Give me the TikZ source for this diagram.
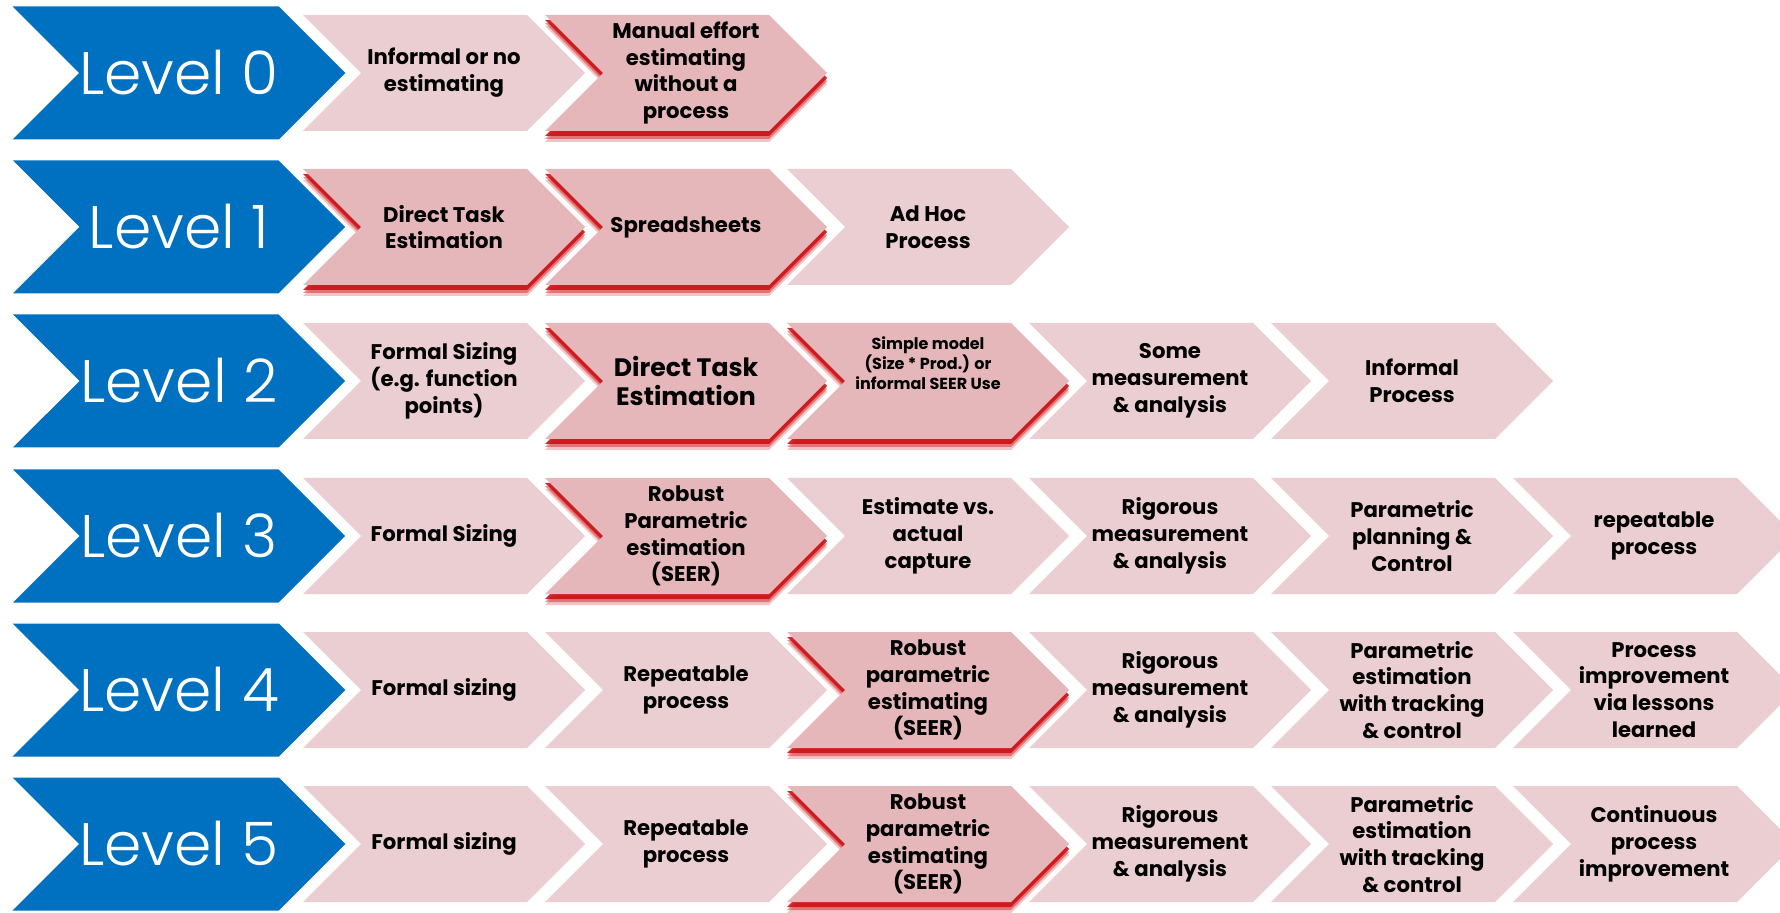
\documentclass[tikz,border=0pt]{standalone}
\usepackage{fontspec}
\setmainfont{Poppins}
\IfFontExistsTF{Poppins Light}{\newfontfamily\levelfont{Poppins Light}}{\newfontfamily\levelfont{Poppins}}
\usetikzlibrary{shapes.symbols, shadows}
\definecolor{levelblue}{RGB}{0,112,192}
\definecolor{stagepink}{RGB}{234,206,209}
\definecolor{keypink}{RGB}{229,183,186}
\definecolor{glowred}{RGB}{204,18,22}

\begin{document}
\begin{tikzpicture}[x=0.5pt, y=-0.5pt,
    level/.style={signal, signal from=west, signal to=east, fill=levelblue, text=white,
      minimum width=166pt, minimum height=66.5pt, inner sep=0pt,
      font=\levelfont\fontsize{30}{30}\selectfont},
    stage/.style={signal, signal from=west, signal to=east, fill=stagepink,
      minimum width=141pt, minimum height=58pt, inner sep=0pt, align=center,
      font=\bfseries\fontsize{10.6}{13.4}\selectfont},
    keystage/.style={stage, fill=keypink,
      drop shadow={shadow xshift=0pt, shadow yshift=-5.5pt, fill=glowred, opacity=.25},
      drop shadow={shadow xshift=0pt, shadow yshift=-4pt, fill=glowred, opacity=.45},
      drop shadow={shadow xshift=0pt, shadow yshift=-2.5pt, fill=glowred, opacity=.9}},
    small/.style={font=\bfseries\fontsize{8}{10}\selectfont},
    large/.style={font=\bfseries\fontsize{12.6}{14.8}\selectfont}]
  \useasboundingbox (0,0) rectangle (1780,913);

  % Level 0
  \node[level] (lvl0) at (179,73) {Level 0};
  \node[stage] (r0c1) at (444,73) {Informal or no\\estimating};
  \node[keystage] (r0c2) at (686,73) {Manual effort\\estimating\\without a\\process};

  % Level 1
  \node[level] (lvl1) at (179,227) {Level 1};
  \node[keystage] (r1c1) at (444,227) {Direct Task\\Estimation};
  \node[keystage] (r1c2) at (686,227) {Spreadsheets};
  \node[stage] (r1c3) at (928,227) {Ad Hoc\\Process};

  % Level 2
  \node[level] (lvl2) at (179,381) {Level 2};
  \node[stage] (r2c1) at (444,381) {Formal Sizing\\(e.g. function\\points)};
  \node[keystage, large] (r2c2) at (686,381) {Direct Task\\Estimation};
  \node[keystage, small] (r2c3) at (928,381) {Simple model\\(Size * Prod.) or\\informal SEER Use\\[8pt]~};
  \node[stage] (r2c4) at (1170,381) {Some\\measurement\\\& analysis};
  \node[stage] (r2c5) at (1412,381) {Informal\\Process};

  % Level 3
  \node[level] (lvl3) at (179,536) {Level 3};
  \node[stage] (r3c1) at (444,536) {Formal Sizing};
  \node[keystage] (r3c2) at (686,536) {Robust\\Parametric\\estimation\\(SEER)};
  \node[stage] (r3c3) at (928,536) {Estimate vs.\\actual\\capture};
  \node[stage] (r3c4) at (1170,536) {Rigorous\\measurement\\\& analysis};
  \node[stage] (r3c5) at (1412,536) {Parametric\\planning \&\\Control};
  \node[stage] (r3c6) at (1654,536) {repeatable\\process};

  % Level 4
  \node[level] (lvl4) at (179,690) {Level 4};
  \node[stage] (r4c1) at (444,690) {Formal sizing};
  \node[stage] (r4c2) at (686,690) {Repeatable\\process};
  \node[keystage] (r4c3) at (928,690) {Robust\\parametric\\estimating\\(SEER)};
  \node[stage] (r4c4) at (1170,690) {Rigorous\\measurement\\\& analysis};
  \node[stage] (r4c5) at (1412,690) {Parametric\\estimation\\with tracking\\\& control};
  \node[stage] (r4c6) at (1654,690) {Process\\improvement\\via lessons\\learned};

  % Level 5
  \node[level] (lvl5) at (179,844) {Level 5};
  \node[stage] (r5c1) at (444,844) {Formal sizing};
  \node[stage] (r5c2) at (686,844) {Repeatable\\process};
  \node[keystage] (r5c3) at (928,844) {Robust\\parametric\\estimating\\(SEER)};
  \node[stage] (r5c4) at (1170,844) {Rigorous\\measurement\\\& analysis};
  \node[stage] (r5c5) at (1412,844) {Parametric\\estimation\\with tracking\\\& control};
  \node[stage] (r5c6) at (1654,844) {Continuous\\process\\improvement};
\end{tikzpicture}
\end{document}
